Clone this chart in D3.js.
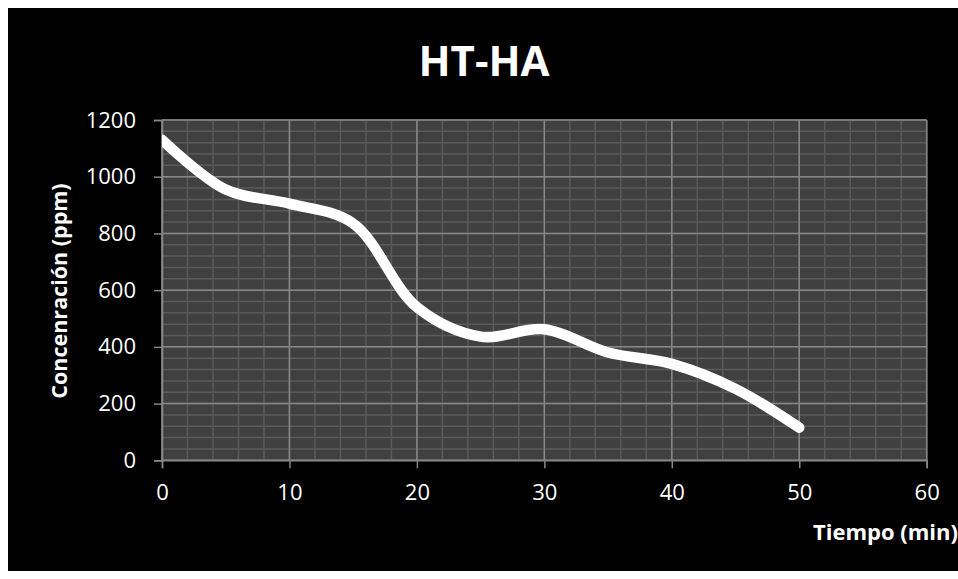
<!DOCTYPE html>
<html>
<head>
<meta charset="utf-8">
<script src="https://cdn.jsdelivr.net/npm/d3@7"></script>
<style>
  html, body { margin: 0; padding: 0; background: #ffffff; }
  svg { display: block; }
</style>
</head>
<body>
<svg id="chart" width="958" height="579"></svg>
<script>
// Concentration over time for HT-HA
const tiempo = [0, 5, 10, 15, 20, 25, 30, 35, 40, 45, 50];
const concentracion = [1130, 955, 905, 835, 540, 436, 462, 380, 340, 252, 115];
const xTicks = [0, 10, 20, 30, 40, 50, 60];
const yTicks = [0, 200, 400, 600, 800, 1000, 1200];
const title = "HT-HA";
const xTitle = "Tiempo (min)";
const yTitle = "Concenración (ppm)";

const svg = d3.select("#chart");
const font = "'Open Sans', sans-serif";

// chart area (black panel inside a white frame)
svg.append("rect").attr("x", 8).attr("y", 8).attr("width", 950).attr("height", 563).attr("fill", "#000");

const plot = { left: 162, right: 926.7, top: 120, bottom: 460.3 };
const x = d3.scaleLinear().domain([0, 60]).range([plot.left, plot.right]);
const y = d3.scaleLinear().domain([0, 1200]).range([plot.bottom, plot.top]);

svg.append("clipPath").attr("id", "plot-clip")
  .append("rect")
  .attr("x", plot.left).attr("y", plot.top)
  .attr("width", plot.right - plot.left).attr("height", plot.bottom - plot.top);

// plot background
svg.append("rect")
  .attr("x", plot.left).attr("y", plot.top)
  .attr("width", plot.right - plot.left).attr("height", plot.bottom - plot.top)
  .attr("fill", "#404040");

const grid = svg.append("g");
// minor grid
grid.selectAll("line.vminor").data(d3.range(0, 61, 2)).join("line")
  .attr("x1", d => x(d)).attr("x2", d => x(d)).attr("y1", plot.top).attr("y2", plot.bottom)
  .attr("stroke", "#5a5a5a").attr("stroke-width", 1.5);
grid.selectAll("line.hminor").data(d3.range(0, 1201, 40)).join("line")
  .attr("y1", d => y(d)).attr("y2", d => y(d)).attr("x1", plot.left).attr("x2", plot.right)
  .attr("stroke", "#5a5a5a").attr("stroke-width", 1.5);
// major grid
grid.selectAll("line.vmajor").data(xTicks).join("line")
  .attr("x1", d => x(d)).attr("x2", d => x(d)).attr("y1", plot.top).attr("y2", plot.bottom)
  .attr("stroke", "#878787").attr("stroke-width", 1.5);
grid.selectAll("line.hmajor").data(yTicks).join("line")
  .attr("y1", d => y(d)).attr("y2", d => y(d)).attr("x1", plot.left).attr("x2", plot.right)
  .attr("stroke", "#878787").attr("stroke-width", 1.5);

// axes
const xAxis = svg.append("g").attr("transform", `translate(0,${plot.bottom})`)
  .call(d3.axisBottom(x).tickValues(xTicks).tickSize(8).tickPadding(16).tickFormat(d3.format("d")));
const yAxis = svg.append("g").attr("transform", `translate(${plot.left},0)`)
  .call(d3.axisLeft(y).tickValues(yTicks).tickSize(8).tickPadding(18).tickFormat(d3.format("d")));
[xAxis, yAxis].forEach(a => {
  a.select(".domain").attr("stroke", "#878787").attr("stroke-width", 1.5);
  a.selectAll(".tick line").attr("stroke", "#878787").attr("stroke-width", 1.5);
  a.selectAll(".tick text").attr("fill", "#fff").attr("font-family", font).attr("font-size", 22);
});

// series line
const line = d3.line()
  .x((d, i) => x(tiempo[i]))
  .y(d => y(d))
  .curve(d3.curveCatmullRom.alpha(0.5));
svg.append("path")
  .datum(concentracion)
  .attr("clip-path", "url(#plot-clip)")
  .attr("d", line)
  .attr("fill", "none")
  .attr("stroke", "#fff")
  .attr("stroke-width", 10.5)
  .attr("stroke-linecap", "round")
  .attr("stroke-linejoin", "round");

// titles
svg.append("text").attr("x", 484).attr("y", 76).attr("text-anchor", "middle")
  .attr("fill", "#fff").attr("font-family", font).attr("font-weight", 700).attr("font-size", 42)
  .text(title);
svg.append("text").attr("x", 958).attr("y", 540).attr("text-anchor", "end")
  .attr("fill", "#fff").attr("font-family", font).attr("font-weight", 700).attr("font-size", 22)
  .text(xTitle);
svg.append("text").attr("transform", "translate(67,291) rotate(-90)").attr("text-anchor", "middle")
  .attr("fill", "#fff").attr("font-family", font).attr("font-weight", 700).attr("font-size", 21.5)
  .text(yTitle);
</script>
</body>
</html>
